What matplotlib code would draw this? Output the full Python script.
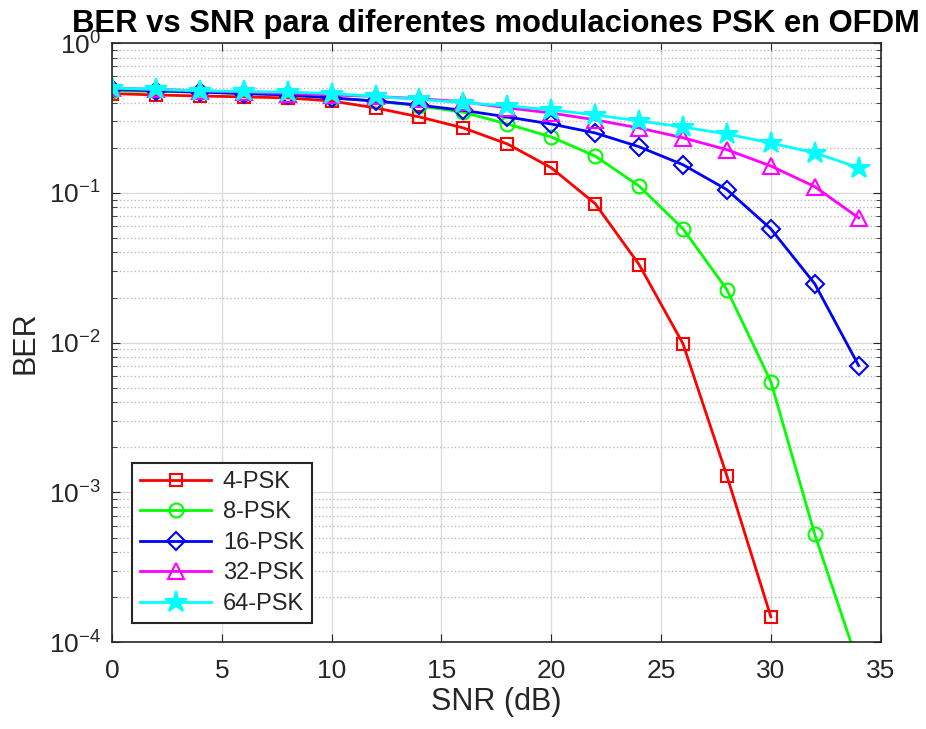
import numpy as np
import matplotlib
matplotlib.use("Agg")
import matplotlib.pyplot as plt

plt.rcParams['font.family'] = ['Liberation Sans', 'DejaVu Sans']
plt.rcParams['mathtext.fontset'] = 'custom'
plt.rcParams['mathtext.rm'] = 'Liberation Sans'

# SNR en dB
snr_db = [0, 2, 4, 6, 8, 10, 12, 14, 16, 18, 20, 22, 24, 26, 28, 30, 32, 34]

# BER
ber_4psk = [0.46, 0.45, 0.443, 0.437, 0.43, 0.41, 0.369, 0.321, 0.271, 0.212,
            0.147, 0.0847, 0.0332, 0.00983, 0.00129, 0.000148]
ber_8psk = [0.48, 0.475, 0.47, 0.46, 0.45, 0.43, 0.41, 0.38, 0.345, 0.288,
            0.236, 0.176, 0.111, 0.0575, 0.0226, 0.0055, 0.000525, 0.00007]
ber_16psk = [0.49, 0.48, 0.47, 0.46, 0.45, 0.43, 0.41, 0.385, 0.355, 0.321,
             0.288, 0.251, 0.203, 0.154, 0.105, 0.0575, 0.0247, 0.00703]
ber_32psk = [0.5, 0.49, 0.48, 0.47, 0.46, 0.45, 0.44, 0.425, 0.405, 0.369,
             0.341, 0.307, 0.271, 0.233, 0.194, 0.151, 0.11, 0.068]
ber_64psk = [0.5, 0.49, 0.48, 0.475, 0.47, 0.46, 0.44, 0.42, 0.40, 0.38,
             0.358, 0.331, 0.302, 0.275, 0.247, 0.215, 0.185, 0.147]

labels = ['4-PSK', '8-PSK', '16-PSK', '32-PSK', '64-PSK']
colors = ['#ff0000', '#00ff00', '#0000ff', '#ff00ff', '#00ffff']
markers = ['s', 'o', 'D', '^', '*']
sizes = [8, 10, 9, 11, 16]

axis_col = '#262626'

fig = plt.figure(figsize=(9.26, 7.29), dpi=100)
ax = fig.add_axes([0.121, 0.119, 0.830, 0.822])

series = [ber_4psk, ber_8psk, ber_16psk, ber_32psk, ber_64psk]
for ber, lab, c, m, ms in zip(series, labels, colors, markers, sizes):
    ax.semilogy(snr_db[:len(ber)], ber, color=c, marker=m, markersize=ms,
                markerfacecolor='none' if m != '*' else c, markeredgewidth=1.5,
                linewidth=2, label=lab)

ax.set_xlim(0, 35)
ax.set_ylim(1e-4, 1)
ax.set_xticks(np.arange(0, 36, 5))
ax.tick_params(which='both', direction='in', top=True, right=True,
               labelsize=19, colors=axis_col)
ax.tick_params(axis='x', which='major', pad=12)
ax.tick_params(axis='y', which='major', pad=8)
ax.tick_params(which='major', length=6)
ax.tick_params(which='minor', length=3.5)
ax.grid(True, which='major', color='#dcdcdc', linewidth=1)
ax.grid(True, which='minor', color='#bdbdbd', linestyle=':', linewidth=1)
for s in ax.spines.values():
    s.set_linewidth(1.2)
    s.set_color(axis_col)

ax.set_xlabel('SNR (dB)', fontsize=22, color=axis_col, labelpad=3)
ax.set_ylabel('BER', fontsize=22, color=axis_col, labelpad=6)
ax.set_title('BER vs SNR para diferentes modulaciones PSK en OFDM',
             fontsize=22.3, fontweight='bold', pad=8)

leg = ax.legend(loc='lower left', bbox_to_anchor=(0.026, 0.032), fontsize=17,
                fancybox=False, framealpha=1, edgecolor=axis_col,
                handlelength=3, handletextpad=0.5, borderpad=0.35,
                labelspacing=0.36, borderaxespad=0)
leg.get_frame().set_linewidth(1.5)
for t in leg.get_texts():
    t.set_color(axis_col)

fig.savefig('out.png', dpi=100)
